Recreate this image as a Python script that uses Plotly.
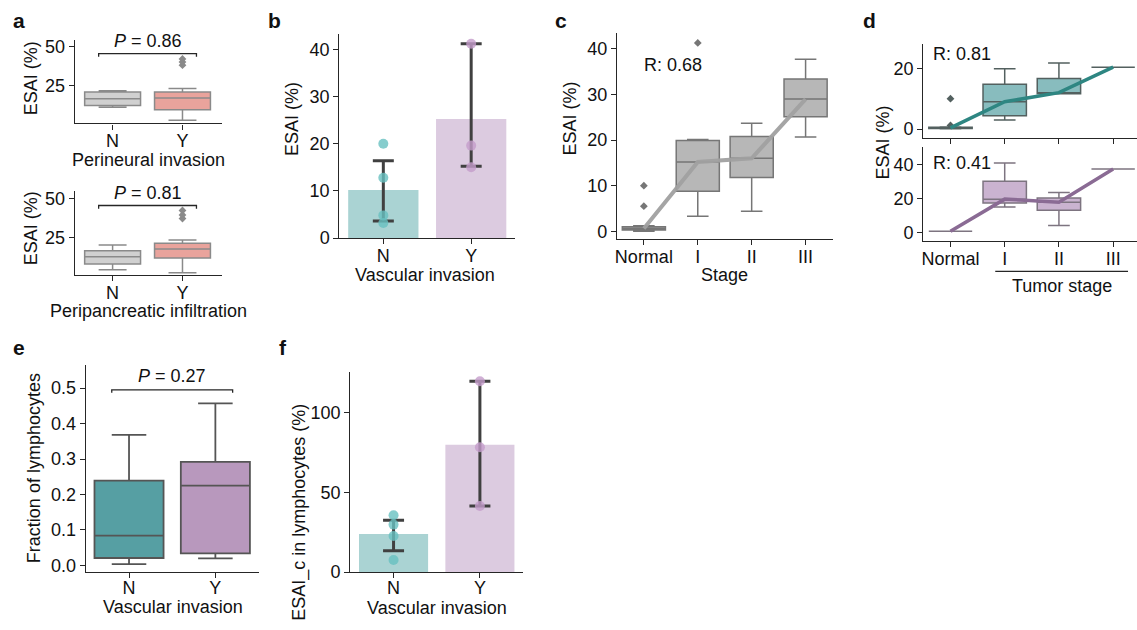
import numpy as np
import plotly.graph_objects as go

W, H = 1137, 630
FONT = "Liberation Sans, Arial, sans-serif"

# ---------------- data ----------------
YN = ["N", "Y"]
STAGES = ["Normal", "I", "II", "III"]

# panel a (top) perineural invasion
PERI_Q1 = [12.3, 9.6]
PERI_MED = [16.5, 17.1]
PERI_Q3 = [20.8, 20.8]
PERI_LO = [11.2, 2.9]
PERI_HI = [21.7, 23.1]
PERI_OUT_Y = [38.0, 40.0, 42.0]
PERI_P = "0.86"

# panel a (bottom) peripancreatic infiltration
PPI_Q1 = [8.1, 11.9]
PPI_MED = [12.7, 17.6]
PPI_Q3 = [16.5, 21.3]
PPI_LO = [4.3, 2.4]
PPI_HI = [20.2, 23.5]
PPI_OUT_Y = [37.2, 39.5, 42.4]
PPI_P = "0.81"

# panel b vascular invasion ESAI
VI_N_PTS = [20.0, 12.8, 4.8, 3.2]
VI_Y_PTS = [41.2, 19.6, 15.0]
VI_CI_LO = [3.6, 15.2]
VI_CI_HI = [16.4, 41.2]

# panel c stage
ST_Q1 = [0.3, 8.8, 11.8, 25.1]
ST_MED = [0.6, 15.2, 16.0, 29.0]
ST_Q3 = [1.0, 19.9, 20.8, 33.4]
ST_LO = [0.0, 3.3, 4.4, 20.7]
ST_HI = [1.2, 20.1, 23.7, 37.7]
ST_OUT_X = [0, 0, 1]
ST_OUT_V = [5.5, 10.0, 41.3]
ST_R = "0.68"

# panel d top (N vascular invasion)
DT_Q1 = [0.2, 4.4, 11.6, 20.4]
DT_MED = [0.4, 9.0, 12.0, 20.4]
DT_Q3 = [0.6, 14.8, 16.7, 20.4]
DT_LO = [0.1, 3.0, 11.6, 20.4]
DT_HI = [0.7, 19.9, 21.8, 20.4]
DT_OUT_X = [0, 0]
DT_OUT_V = [10.0, 1.2]
DT_R = "0.81"

# panel d bottom (Y vascular invasion)
DB_Q1 = [0.5, 17.3, 13.0, 37.5]
DB_MED = [0.5, 19.6, 17.8, 37.5]
DB_Q3 = [0.5, 30.2, 20.3, 37.5]
DB_LO = [0.5, 14.9, 4.0, 37.5]
DB_HI = [0.5, 41.0, 23.5, 37.5]
DB_R = "0.41"

# panel e fraction of lymphocytes
FL_Q1 = [0.021, 0.034]
FL_MED = [0.084, 0.225]
FL_Q3 = [0.239, 0.292]
FL_LO = [0.004, 0.020]
FL_HI = [0.368, 0.457]
FL_P = "0.27"

# panel f ESAI_c in lymphocytes
LY_N_PTS = [35.7, 29.8, 22.6, 7.6]
LY_Y_PTS = [119.9, 78.4, 41.5]
LY_CI_LO = [13.3, 41.5]
LY_CI_HI = [32.6, 119.9]

# ---------------- helpers ----------------
def fx(p):
    return p / W

def fy(p):
    return 1 - p / H

AX = "#262626"
fig = go.Figure()

def axis_style(**kw):
    d = dict(showline=True, linecolor=AX, linewidth=1.3, ticks="outside",
             ticklen=5, tickwidth=1.3, tickcolor=AX, showgrid=False,
             zeroline=False, tickfont=dict(family=FONT, size=18, color="#111"),
             fixedrange=True)
    d.update(kw)
    return d

def add_box(xa, ya, pos, q1, med, q3, lo, hi, fill, edge, lw=1.5):
    fig.add_trace(go.Box(x=[pos], q1=[q1], median=[med], q3=[q3],
                         lowerfence=[lo], upperfence=[hi], width=0.8,
                         whiskerwidth=0.5, fillcolor=fill,
                         line=dict(color=edge, width=lw), boxpoints=False,
                         xaxis=xa, yaxis=ya, hoverinfo="skip"))

def add_outliers(xa, ya, xs, vs, color):
    fig.add_trace(go.Scatter(x=xs, y=vs, mode="markers", xaxis=xa, yaxis=ya,
                             marker=dict(symbol="diamond", size=6, color=color),
                             hoverinfo="skip"))

annotations = []
shapes = []

def text_px(txt, x, y, size=18, bold=False, angle=0):
    annotations.append(dict(text=("<b>%s</b>" % txt) if bold else txt,
                            x=fx(x), y=fy(y), xref="paper", yref="paper",
                            xanchor="center", yanchor="middle", showarrow=False,
                            textangle=angle, borderpad=0,
                            font=dict(family=FONT, size=size, color="#111")))

def bracket(xr, yr, x0, x1, ytop, ybot, ptxt, tx_y):
    shapes.append(dict(type="path", xref=xr, yref=yr,
                       path="M %f,%f L %f,%f L %f,%f L %f,%f" % (x0, ybot, x0, ytop, x1, ytop, x1, ybot),
                       line=dict(color=AX, width=1.3)))
    annotations.append(dict(text="<i>P</i> = " + ptxt, x=(x0 + x1) / 2, y=tx_y,
                            xref=xr, yref=yr, xanchor="center", yanchor="bottom",
                            showarrow=False, borderpad=0,
                            font=dict(family=FONT, size=18, color="#111")))

# ---------------- panel a top ----------------
GRAY_EDGE = "#8a8a8a"
a_fills = ["#d0d0d0", "#e9a39c"]
for i in range(2):
    add_box("x", "y", i, PERI_Q1[i], PERI_MED[i], PERI_Q3[i], PERI_LO[i], PERI_HI[i], a_fills[i], GRAY_EDGE)
add_outliers("x", "y", [1] * len(PERI_OUT_Y), PERI_OUT_Y, GRAY_EDGE)
bracket("x", "y", -0.2, 1.2, 45.4, 43.3, PERI_P, 46.2)

# ---------------- panel a bottom ----------------
for i in range(2):
    add_box("x2", "y2", i, PPI_Q1[i], PPI_MED[i], PPI_Q3[i], PPI_LO[i], PPI_HI[i], a_fills[i], GRAY_EDGE)
add_outliers("x2", "y2", [1] * len(PPI_OUT_Y), PPI_OUT_Y, GRAY_EDGE)
bracket("x2", "y2", -0.2, 1.2, 45.6, 43.5, PPI_P, 46.4)

# ---------------- bar panels (b, f) ----------------
def bar_panel(xa, ya, pts_n, pts_y, ci_lo, ci_hi):
    means = [float(np.mean(pts_n)), float(np.mean(pts_y))]
    fig.add_trace(go.Bar(x=[0, 1], y=means, width=0.8, xaxis=xa, yaxis=ya,
                         marker=dict(color=["#aad3d3", "#dccbe0"], line=dict(width=0)),
                         error_y=dict(type="data", symmetric=False,
                                      array=[ci_hi[i] - means[i] for i in range(2)],
                                      arrayminus=[means[i] - ci_lo[i] for i in range(2)],
                                      color="#404040", thickness=3, width=10.5),
                         hoverinfo="skip"))
    fig.add_trace(go.Scatter(x=[0] * len(pts_n), y=pts_n, mode="markers", xaxis=xa, yaxis=ya,
                             marker=dict(size=10, color="rgba(104,192,193,0.8)"), hoverinfo="skip"))
    fig.add_trace(go.Scatter(x=[1] * len(pts_y), y=pts_y, mode="markers", xaxis=xa, yaxis=ya,
                             marker=dict(size=10, color="rgba(196,156,202,0.8)"), hoverinfo="skip"))

bar_panel("x3", "y3", VI_N_PTS, VI_Y_PTS, VI_CI_LO, VI_CI_HI)

# ---------------- panel c ----------------
for i in range(4):
    add_box("x4", "y4", i, ST_Q1[i], ST_MED[i], ST_Q3[i], ST_LO[i], ST_HI[i], "#b7b7b7", "#767676")
add_outliers("x4", "y4", ST_OUT_X, ST_OUT_V, "#767676")
fig.add_trace(go.Scatter(x=list(range(4)), y=ST_MED, mode="lines", xaxis="x4", yaxis="y4",
                         line=dict(color="rgba(160,160,160,0.95)", width=4), hoverinfo="skip"))

# ---------------- panel d ----------------
for i in range(4):
    add_box("x5", "y5", i, DT_Q1[i], DT_MED[i], DT_Q3[i], DT_LO[i], DT_HI[i], "#88bcbe", "#53605f")
add_outliers("x5", "y5", DT_OUT_X, DT_OUT_V, "#53605f")
fig.add_trace(go.Scatter(x=list(range(4)), y=DT_MED, mode="lines", xaxis="x5", yaxis="y5",
                         line=dict(color="#2e8682", width=3.5), hoverinfo="skip"))
for i in range(4):
    add_box("x6", "y6", i, DB_Q1[i], DB_MED[i], DB_Q3[i], DB_LO[i], DB_HI[i], "#cab3d0", "#7d7480")
fig.add_trace(go.Scatter(x=list(range(4)), y=DB_MED, mode="lines", xaxis="x6", yaxis="y6",
                         line=dict(color="#8a6b94", width=3.5), hoverinfo="skip"))

# ---------------- panel e ----------------
e_fills = ["#569fa3", "#b898bd"]
for i in range(2):
    add_box("x7", "y7", i, FL_Q1[i], FL_MED[i], FL_Q3[i], FL_LO[i], FL_HI[i], e_fills[i], "#555555", lw=1.8)
bracket("x7", "y7", -0.2, 1.2, 0.495, 0.487, FL_P, 0.503)

# ---------------- panel f ----------------
bar_panel("x8", "y8", LY_N_PTS, LY_Y_PTS, LY_CI_LO, LY_CI_HI)

# ---------------- axes ----------------
def dom(x0, x1, y0, y1):
    return [fx(x0), fx(x1)], [fy(y1), fy(y0)]

layout_axes = {}
specs = [
    # name, xdom px, ydom px, xrange, yrange, xticks, ytickvals, show xlabels, yfmt, label standoff
    ("", (73, 220), (38, 123), [-0.54, 1.56], [0.8, 53.9], YN, [25, 50], True, None, -4),
    ("2", (73, 220), (192, 278), [-0.54, 1.56], [0.8, 54.9], YN, [25, 50], True, None, -4),
    ("3", (338, 514), (32, 240), [-0.5, 1.5], [0, 43.2], YN, [0, 10, 20, 30, 40], True, None, -4),
    ("4", (616, 832), (31, 241), [-0.5, 3.5], [-1.7, 43.4], STAGES, [0, 10, 20, 30, 40], True, None, -4),
    ("5", (923, 1137), (42, 138), [-0.5, 3.44], [-3.0, 28.0], STAGES, [0, 20], False, None, -4),
    ("6", (923, 1137), (147, 243), [-0.5, 3.44], [-5.2, 50.5], STAGES, [0, 20, 40], True, None, -4),
    ("7", (84, 257), (370, 581), [-0.5, 1.5], [-0.0185, 0.564], YN, [0, 0.1, 0.2, 0.3, 0.4, 0.5], True, ".1f", -6),
    ("8", (349, 522), (377, 581), [-0.5, 1.5], [0, 125.6], YN, [0, 50, 100], True, None, -6),
]
for name, xd, yd, xr, yr, xt, yt, showx, yfmt, sto in specs:
    xdom, ydom = dom(xd[0], xd[1], yd[0], yd[1])
    xa = axis_style(domain=xdom, range=xr, tickmode="array",
                    tickvals=list(range(len(xt))), ticktext=xt,
                    showticklabels=showx, anchor="y" + name,
                    ticklabelstandoff=sto)
    ya = axis_style(domain=ydom, range=yr, tickmode="array", tickvals=yt,
                    anchor="x" + name)
    if yfmt:
        ya["tickformat"] = yfmt
    layout_axes["xaxis" + name] = xa
    layout_axes["yaxis" + name] = ya

# ---------------- texts ----------------
for L, x, y in [("a", 17.5, 18), ("b", 272.5, 18), ("c", 560, 18), ("d", 869, 18),
                ("e", 17.5, 352), ("f", 281.7, 352)]:
    text_px(L, x, y, size=21, bold=True)

text_px("ESAI (%)", 29, 77, angle=-90)
text_px("Perineural invasion", 147, 160)
text_px("ESAI (%)", 29, 230, angle=-90)
text_px("Peripancreatic infiltration", 147, 314)
text_px("ESAI (%)", 290, 118, angle=-90)
text_px("Vascular invasion", 424, 278)
text_px("ESAI (%)", 569, 118, angle=-90)
text_px("Stage", 724, 278)
text_px("ESAI (%)", 883, 142, angle=-90)
text_px("Tumor stage", 1062, 289)
text_px("Fraction of lymphocytes", 32, 475, angle=-90)
text_px("Vascular invasion", 171, 617)
text_px("ESAI_c in lymphocytes (%)", 298, 520, angle=-90)
text_px("Vascular invasion", 436, 618)

text_px("R: " + ST_R, 672, 63)
text_px("R: " + DT_R, 962, 52)
text_px("R: " + DB_R, 962, 163)

shapes.append(dict(type="line", xref="paper", yref="paper", x0=fx(995), x1=fx(1128),
                   y0=fy(274), y1=fy(274), line=dict(color=AX, width=1.3)))

fig.update_layout(width=W, height=H, margin=dict(l=0, r=0, t=0, b=0),
                  paper_bgcolor="white", plot_bgcolor="white", showlegend=False,
                  boxmode="overlay", annotations=annotations, shapes=shapes,
                  font=dict(family=FONT, size=18, color="#111"), **layout_axes)

fig.write_html("out.html", config={"displayModeBar": False},
               post_script="document.body.style.margin='0';document.body.style.overflow='hidden';")
